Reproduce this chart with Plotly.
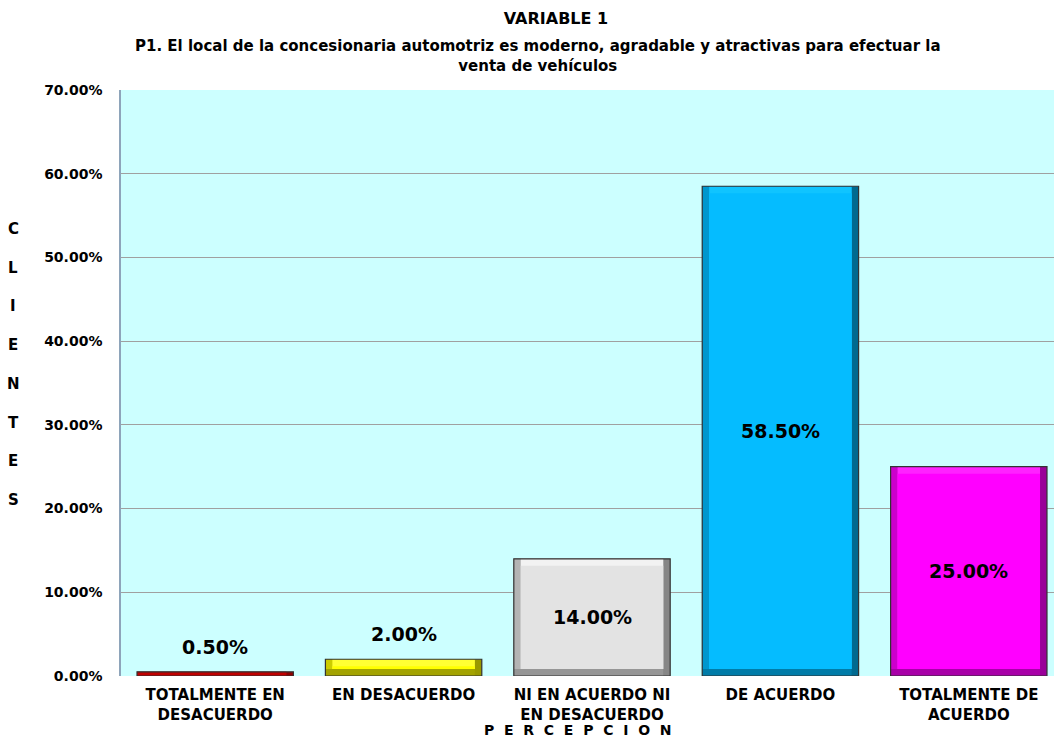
import plotly.graph_objects as go

categories = [
    "TOTALMENTE EN<br>DESACUERDO",
    "EN DESACUERDO",
    "NI EN ACUERDO NI<br>EN DESACUERDO",
    "DE ACUERDO",
    "TOTALMENTE DE<br>ACUERDO",
]
values = [0.5, 2.0, 14.0, 58.5, 25.0]
labels = ["0.50%", "2.00%", "14.00%", "58.50%", "25.00%"]

title = "VARIABLE 1"
subtitle = ("P1. El local de la concesionaria automotriz es moderno, agradable y "
            "atractivas para efectuar la<br>venta de vehículos")
y_title = "CLIENTES"
x_title = "PERCEPCION"

# bevel palette per bar: face, top, left, right, bottom
face = ["#D00000", "#FFFF00", "#E3E3E3", "#05BCFF", "#FF00FF"]
top = ["#D00000", "#FFFF33", "#F2F2F2", "#10C4FF", "#FF22FF"]
left = ["#B00000", "#CCCC00", "#B4B4B4", "#0097CE", "#CC00CC"]
right = ["#900000", "#999900", "#868686", "#006A90", "#990099"]
bottom = ["#C00000", "#A3A300", "#969696", "#007CA8", "#A800A8"]

FONT = "DejaVu Sans"
W = 0.83   # bar width (category units)
BX = 0.037  # bevel width in x
BY = 0.84   # bevel height in y (percent units)

fig = go.Figure()


def layer(base, height, offset, width, colors, line=None):
    fig.add_trace(go.Bar(
        x=categories,
        y=[max(h, 0) for h in height],
        base=base,
        offset=offset,
        width=width,
        marker=dict(color=colors, line=line or dict(width=0)),
        hoverinfo="skip",
        showlegend=False,
    ))


layer(0, values, -W / 2, W, right)
layer(0, values, -W / 2, W - BX, bottom)
layer(BY, [v - BY for v in values], -W / 2, W - BX, left)
layer(BY, [v - BY for v in values], -W / 2 + BX, W - 2 * BX, top)
layer(BY, [v - 2 * BY for v in values], -W / 2 + BX, W - 2 * BX, face)
layer(0, values, -W / 2, W, "rgba(0,0,0,0)", dict(color="#333333", width=1.2))

# data labels
for c, v, t in zip(categories, values, labels):
    if v < 5:
        fig.add_annotation(x=c, y=v, text=t, showarrow=False, yanchor="bottom",
                           yshift=12, font=dict(family=FONT, size=19, color="black", weight="bold"))
    else:
        fig.add_annotation(x=c, y=v / 2, text=t, showarrow=False, yanchor="middle",
                           font=dict(family=FONT, size=19, color="black", weight="bold"))

# subtitle
fig.add_annotation(xref="paper", yref="paper", x=(538 - 121) / 933, y=(676 - 56) / 586,
                   text=subtitle, showarrow=False, yanchor="middle",
                   font=dict(family=FONT, size=15, color="black", weight="bold"))

# vertical stacked y title
for i, ch in enumerate(y_title):
    ypx = 229 + i * 38.7
    fig.add_annotation(xref="paper", yref="paper", x=(13 - 121) / 933,
                       y=(676 - ypx) / 586, text=ch, showarrow=False,
                       xanchor="center", yanchor="middle",
                       font=dict(family=FONT, size=15, color="black", weight="bold"))

# x axis title, letter spaced
fig.add_annotation(xref="paper", yref="paper", x=(578 - 121) / 933,
                   y=(676 - 730) / 586, text="\u00a0\u00a0".join(x_title),
                   showarrow=False, xanchor="center", yanchor="middle",
                   font=dict(family=FONT, size=14, color="black", weight="bold"))

fig.update_layout(
    width=1054,
    height=742,
    barmode="overlay",
    paper_bgcolor="white",
    plot_bgcolor="#CCFFFF",
    margin=dict(l=121, r=0, t=90, b=66),
    title=dict(text=title, x=556 / 1054, y=1 - 18 / 742, xanchor="center",
               yanchor="middle", xref="container", yref="container",
               font=dict(family=FONT, size=16, color="black", weight="bold")),
    font=dict(family=FONT, color="black"),
    xaxis=dict(
        range=[-0.5, -0.5 + 933 / 188.4],
        automargin=False,
        showgrid=False,
        showline=False,
        ticks="",
        ticklabelstandoff=8,
        tickfont=dict(family=FONT, size=15, color="black", weight="bold"),
    ),
    yaxis=dict(
        range=[0, 70],
        automargin=False,
        dtick=10,
        tickformat=".2f",
        ticksuffix="%",
        showgrid=True,
        gridcolor="#A0A0A0",
        gridwidth=1,
        zeroline=False,
        showline=True,
        linecolor="#8EA4BA",
        linewidth=1.5,
        mirror=True,
        ticks="",
        ticklabelstandoff=14,
        tickfont=dict(family=FONT, size=14, color="black", weight="bold"),
    ),
)

# the default page body has an 8px margin; drop it so the figure sits at 0,0
fig.write_html("out.html", config={"displayModeBar": False},
               post_script="document.body.style.margin = '0';")
